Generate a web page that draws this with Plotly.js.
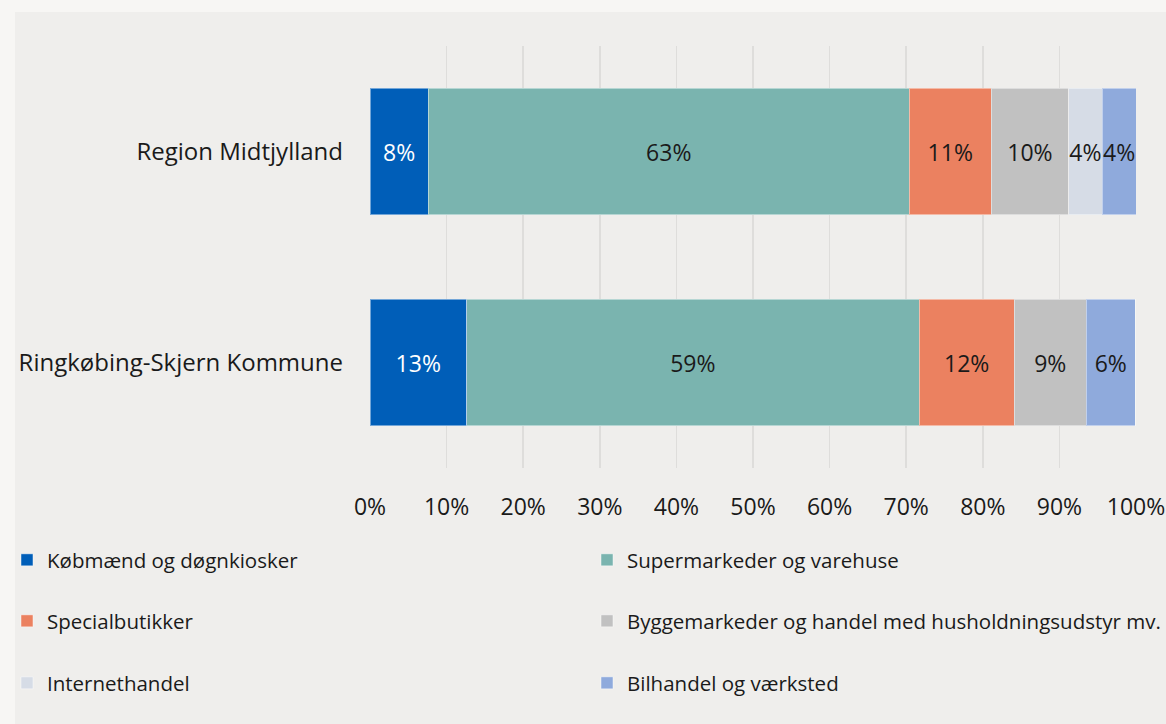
<!DOCTYPE html>
<html>
<head>
<meta charset="utf-8">
<script src="https://cdn.plot.ly/plotly-3.0.1.min.js"></script>
<style>
  html, body { margin: 0; padding: 0; background: #f7f6f4; width: 1166px; height: 724px; overflow: hidden; }
  #chart { position: absolute; left: 0; top: 0; width: 1166px; height: 724px; }
</style>
</head>
<body>
<div id="chart"></div>
<script>
const regions = ['Region Midtjylland', 'Ringkøbing-Skjern Kommune'];
const seriesNames = [
  'Købmænd og døgnkiosker',
  'Supermarkeder og varehuse',
  'Specialbutikker',
  'Byggemarkeder og handel med husholdningsudstyr mv.',
  'Internethandel',
  'Bilhandel og værksted'
];
const koebmaend = [7.6, 12.6];
const supermarkeder = [62.8, 59.1];
const specialbutikker = [10.7, 12.4];
const byggemarkeder = [10.1, 9.4];
const internethandel = [4.4, null];
const bilhandel = [4.4, 6.4];
const seriesValues = [koebmaend, supermarkeder, specialbutikker, byggemarkeder, internethandel, bilhandel];
const colors = ['#005eb8', '#7ab4af', '#eb8160', '#c1c1c1', '#d6dce6', '#8faadc'];
const textColors = ['#ffffff', '#1a1a1a', '#1a1a1a', '#1a1a1a', '#1a1a1a', '#1a1a1a'];
const tickVals = [0,10,20,30,40,50,60,70,80,90,100];
const tickText = ['0%','10%','20%','30%','40%','50%','60%','70%','80%','90%','100%'];
const legendIds = ['legend','legend2','legend3','legend4','legend5','legend6'];

const FONT = 'Open Sans, Noto Sans, sans-serif';

const traces = seriesValues.map((vals, i) => ({
  type: 'bar',
  orientation: 'h',
  name: seriesNames[i],
  y: regions,
  x: vals,
  marker: { color: colors[i], line: { color: 'rgba(255,255,255,0.45)', width: 1 } },
  texttemplate: '%{x:.0f}%',
  textposition: 'inside',
  insidetextanchor: 'middle',
  textangle: 0,
  constraintext: 'none',
  insidetextfont: { family: FONT, size: 23, color: textColors[i] },
  hoverinfo: 'skip',
  legend: legendIds[i]
}));

const legendCols = [-0.4739, 0.2833];
const legendRows = [-0.218, -0.3626, -0.5095];

function mkLegend(col, row) {
  return {
    orientation: 'h',
    xanchor: 'left',
    yanchor: 'middle',
    x: legendCols[col],
    y: legendRows[row],
    bgcolor: 'rgba(0,0,0,0)',
    font: { family: FONT, size: 20.5, color: '#1a1a1a' },
    itemclick: false,
    itemdoubleclick: false
  };
}

const layout = {
  width: 1166,
  height: 724,
  margin: { l: 370, r: 30, t: 46, b: 256, autoexpand: false },
  paper_bgcolor: '#f7f6f4',
  plot_bgcolor: 'rgba(0,0,0,0)',
  barmode: 'stack',
  bargap: 0.4,
  font: { family: FONT, color: '#1a1a1a' },
  shapes: [{
    type: 'rect', xref: 'paper', yref: 'paper', layer: 'below',
    x0: -0.46345, x1: 1.2, y0: -1, y1: 1.08057,
    fillcolor: '#efeeec', line: { width: 0 }
  }],
  xaxis: {
    range: [0, 100],
    tickvals: tickVals,
    ticktext: tickText,
    showgrid: true,
    gridcolor: '#dedddb',
    gridwidth: 1.5,
    zeroline: false,
    showline: false,
    ticks: '',
    ticklabelstandoff: 23,
    tickfont: { family: FONT, size: 23, color: '#1a1a1a' },
    automargin: false,
    fixedrange: true
  },
  yaxis: {
    type: 'category',
    categoryorder: 'array',
    categoryarray: regions,
    autorange: 'reversed',
    showgrid: false,
    zeroline: false,
    showline: false,
    ticks: '',
    ticklabelstandoff: 26,
    tickfont: { family: FONT, size: 24, color: '#1a1a1a' },
    automargin: false,
    fixedrange: true
  },
  legend: mkLegend(0, 0),
  legend2: mkLegend(1, 0),
  legend3: mkLegend(0, 1),
  legend4: mkLegend(1, 1),
  legend5: mkLegend(0, 2),
  legend6: mkLegend(1, 2),
  showlegend: true
};

Plotly.newPlot('chart', traces, layout, { displayModeBar: false, staticPlot: true });
</script>
</body>
</html>
